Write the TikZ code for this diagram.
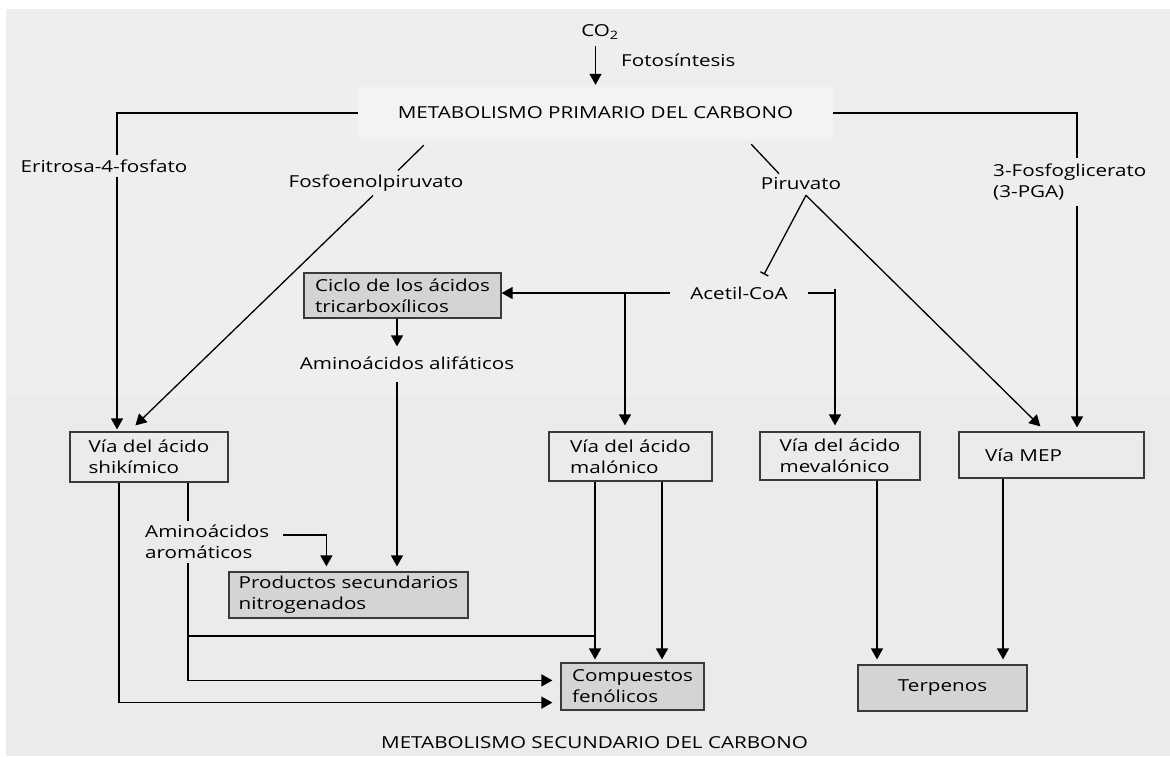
\documentclass[tikz,border=0pt]{standalone}
\usepackage{fontspec}
\setmainfont{Open Sans}[FakeStretch=1.25]
\usetikzlibrary{arrows.meta,calc}
\definecolor{bgtop}{HTML}{EEEEEE}
\definecolor{bgbot}{HTML}{EBEBEB}
\definecolor{primfill}{HTML}{F3F3F3}
\definecolor{boxfill}{HTML}{D4D4D4}
\definecolor{boxline}{HTML}{3A3A3A}
\begin{document}
\begin{tikzpicture}[x=1pt,y=-1pt,
  font=\fontsize{16.5}{21}\selectfont,
  conn/.style={line width=1.3pt, black},
  arr/.style={conn, -{Triangle[width=12pt,length=11pt]}},
  barend/.style={conn, -{Bar[width=9pt]}},
  lbl/.style={inner xsep=0pt, inner ysep=4pt, align=left},
  primbox/.style={fill=primfill, inner sep=0pt},
  pathbox/.style={draw=boxline, line width=1.2pt, align=left, inner sep=0pt},
  prodbox/.style={pathbox, fill=boxfill},
]
\useasboundingbox (0,0) rectangle (1170,756);
\fill[white] (0,0) rectangle (1170,756);
\fill[bgtop] (6,9) rectangle (1170,397);
\fill[bgbot] (6,397) rectangle (1170,756);

% nodes
\node[primbox, minimum width=475pt, minimum height=52pt] (prim) at (595.5,113) {METABOLISMO PRIMARIO DEL CARBONO};
\node[lbl] (co2) at (600,32) {CO\textsubscript{2}};
\node[lbl, anchor=west] (foto) at (621,60) {Fotosíntesis};
\node[lbl] (eri) at (104,166) {Eritrosa-4-fosfato};
\node[lbl] (fosfo) at (376,183) {Fosfoenolpiruvato};
\node[lbl] (piru) at (801,184) {Piruvato};
\node[lbl, anchor=west] (pga) at (993,182) {3-Fosfoglicerato\\(3-PGA)};
\node[lbl, inner xsep=20pt] (acetil) at (739,293) {Acetil-CoA};
\node[prodbox, minimum width=197pt, minimum height=45pt] (ciclo) at (402.5,295.5) {Ciclo de los ácidos\\tricarboxílicos};
\node[lbl] (alif) at (407,363) {Aminoácidos alifáticos};
\node[pathbox, minimum width=158pt, minimum height=50pt] (shik) at (149,457) {Vía del ácido\\shikímico};
\node[pathbox, minimum width=163pt, minimum height=49pt] (malon) at (630.5,456.5) {Vía del ácido\\malónico};
\node[pathbox, minimum width=160pt, minimum height=48pt] (mev) at (840,456) {Vía del ácido\\mevalónico};
\node[pathbox, minimum width=185pt, minimum height=46pt, text width=133pt, inner xsep=26pt] (mep) at (1051.5,455) {Vía MEP};
\node[lbl, anchor=west] (arom) at (145,542) {Aminoácidos\\aromáticos};
\node[prodbox, minimum width=239pt, minimum height=46pt] (prod) at (348.5,595) {Productos secundarios\\nitrogenados};
\node[prodbox, minimum width=143pt, minimum height=47pt] (comp) at (632.5,686.5) {Compuestos\\fenólicos};
\node[prodbox, minimum width=169pt, minimum height=46pt, align=center] (terp) at (942.5,688) {Terpenos};
\node[lbl] (sec) at (594.5,743) {METABOLISMO SECUNDARIO DEL CARBONO};

% x positions of vertical connectors
\coordinate (xE) at (117,0);
\coordinate (xP) at (1077,0);
\coordinate (xM) at (625,0);
\coordinate (xV) at (835,0);
\coordinate (xA) at (397,0);
\coordinate (xS1) at (119,0);
\coordinate (xS2) at (188,0);
\coordinate (xL) at (595,0);
\coordinate (xR) at (662,0);
\coordinate (xT1) at (877,0);
\coordinate (xT2) at (1003,0);
\coordinate (j1) at (188,636);

% connectors
\draw[arr, shorten <=3pt, shorten >=2pt] (co2.south -| prim.north) -- (prim.north);

\draw[conn] (prim.west) -| (eri.north -| xE);
\draw[arr, shorten >=2pt] (eri.south -| xE) -- (shik.north -| xE);

\draw[conn] ($(prim.south west)+(66,6)$) -- ($(fosfo.north)+(22,0)$);
\draw[arr] ($(fosfo.south)+(-3,0)$) -- ($(shik.north west)+(66,-6)$);

\draw[conn] ($(prim.south east)+(-82,5)$) -- ($(piru.north)+(-22,0)$);
\coordinate (pa) at ($(piru.south)+(5,1)$);
\draw[barend] (pa) -- ($(acetil.north)+(25,-8)$);
\draw[arr] (pa) -- ($(mep.north west)+(82,-5)$);

\draw[conn] (prim.east) -| ($(pga.north -| xP)+(0,-2)$);
\draw[arr, shorten >=4pt] ($(pga.south -| xP)+(0,2)$) -- (mep.north -| xP);

\draw[arr] (acetil.west) -- (acetil.west -| ciclo.east);
\draw[arr, shorten >=6pt] (acetil.west -| xM) -- (malon.north -| xM);
\draw[conn] (acetil.east) -- (acetil.east -| xV);
\draw[arr, shorten >=6pt] ($(acetil.east -| xV)+(0,-4)$) -- (mev.north -| xV);

\draw[arr, shorten >=6pt] (ciclo.south -| xA) -- (alif.north -| xA);
\draw[arr, shorten >=5pt] ($(alif.south -| xA)+(0,8)$) -- (prod.north -| xA);

\draw[arr, shorten >=8pt] (shik.south -| xS1) |- ($(comp.south west)+(0,-8)$);
\draw[conn] (shik.south -| xS2) -- (arom.north -| xS2);
\draw[arr, shorten >=8pt] (arom.south -| xS2) |- ($(comp.north west)+(0,18)$);
\draw[conn] (j1) -- (j1 -| xL);
\draw[arr, shorten >=5pt] ($(arom.north west)+(138,14)$) -| ($(prod.north west)+(98,0)$);

\draw[arr, shorten >=3pt] (malon.south -| xL) -- (comp.north -| xL);
\draw[arr, shorten >=3pt] (malon.south -| xR) -- (comp.north -| xR);

\draw[arr, shorten >=5pt] (mev.south -| xT1) -- (terp.north -| xT1);
\draw[arr, shorten >=5pt] (mep.south -| xT2) -- (terp.north -| xT2);
\end{tikzpicture}
\end{document}
